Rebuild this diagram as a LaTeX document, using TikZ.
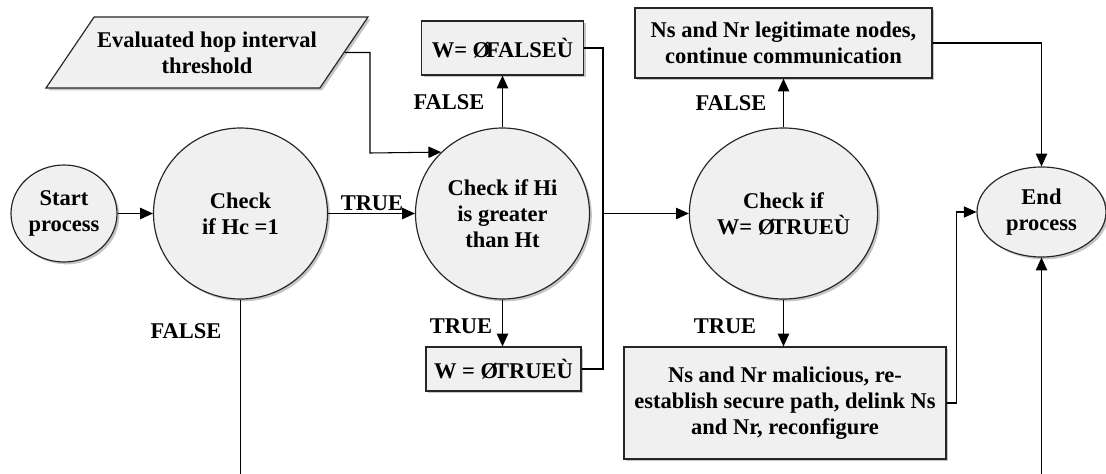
\documentclass[tikz,border=0pt]{standalone}
\usepackage{fontspec}
\setmainfont{Liberation Serif}
\usetikzlibrary{arrows.meta,shapes.geometric,shadows}

\begin{document}
\begin{tikzpicture}[x=0.03cm,y=-0.03cm,
        font=\fontsize{19.2}{22.2}\selectfont\bfseries,
        every node/.style={align=center},
        shapebase/.style={draw=black!85,line width=1pt,fill=black!6,inner sep=0pt,
            drop shadow={shadow xshift=0.07cm,shadow yshift=-0.07cm,fill=black!45,opacity=0.5}},
        terminal/.style={shapebase,ellipse},
        decision/.style={shapebase,ellipse,minimum width=5.22cm,minimum height=5.13cm},
        procbox/.style={shapebase,rectangle},
        datain/.style={shapebase,trapezium,trapezium left angle=41,trapezium right angle=139,
            trapezium stretches body},
        flow/.style={line width=0.9pt,-{Triangle[length=0.38cm,width=0.34cm]}},
        wire/.style={line width=0.9pt},
        lbl/.style={inner sep=0pt}]
        \useasboundingbox (0,0) rectangle (1106,474);
        % shapes
        \node[terminal,minimum width=3.18cm,minimum height=2.91cm] (start) at (64,213.5) {Start\\process};
        \node[decision] (checkhc) at (240.5,213.5) {Check\\if Hc =1};
        \node[decision] (checkhi) at (502.5,213.5) {Check if Hi\\is greater\\than Ht};
        \node[decision] (checkw) at (783.5,213.5) {Check if\\W= Ø\kern-.18em TRUEÙ};
        \node[terminal,minimum width=3.87cm,minimum height=2.7cm] (endp) at (1041.5,212) {End\\process};
        \node[datain,minimum width=9.66cm,minimum height=2.13cm] (hopth) at (207,52.5) {Evaluated hop interval\\threshold};
        \node[procbox,minimum width=4.86cm,minimum height=1.62cm] (wfalse) at (502.5,48) {W= Ø\kern-.18em FALSEÙ};
        \node[procbox,minimum width=4.65cm,minimum height=1.32cm] (wtrue) at (503.5,369) {W = Ø\kern-.18em TRUEÙ};
        \node[procbox,minimum width=8.91cm,minimum height=2.1cm] (legit) at (783.5,43) {Ns and Nr legitimate nodes,\\continue communication};
        \node[procbox,minimum width=9.66cm,minimum height=3.36cm] (malic) at (785,403) {Ns and Nr malicious, re-\\establish secure path, delink Ns\\and Nr, reconfigure};
        % branch labels
        \node[lbl] (true1) at (372,203) {TRUE};
        \node[lbl] (false1) at (449,102) {FALSE};
        \node[lbl] (true2) at (461,326) {TRUE};
        \node[lbl] (false2) at (186,331) {FALSE};
        \node[lbl] (false3) at (731,103) {FALSE};
        \node[lbl] (true3) at (725,326) {TRUE};
        \coordinate (bend) at (370,153);
        \coordinate (join) at (603,213.5);
        \coordinate (hcout) at (240.5,474);
        \coordinate (endin) at (1041.5,474);
        % connectors
        \draw[flow] (start) -- (checkhc);
        \draw[flow] (checkhc) -- (checkhi);
        \draw[flow] (hopth.east) -| (bend) -- (checkhi.135);
        \draw[flow] (checkhi) -- (wfalse);
        \draw[flow] (checkhi.south) -- (checkhi.south |- wtrue.north);
        \draw[wire] (wfalse.east) -| (join);
        \draw[wire] (wtrue.east) -| (join);
        \draw[flow] (join) -- (checkw);
        \draw[flow] (checkw) -- (legit);
        \draw[flow] (checkw.south) -- (checkw.south |- malic.north);
        \draw[flow] (legit.east) -| (endp.north);
        \draw[flow] (malic.east) -- ++(10,0) |- (endp.west);
        \draw[wire] (checkhc.south) -- (hcout);
        \draw[flow] (endin) -- (endp.south);
\end{tikzpicture}
\end{document}
